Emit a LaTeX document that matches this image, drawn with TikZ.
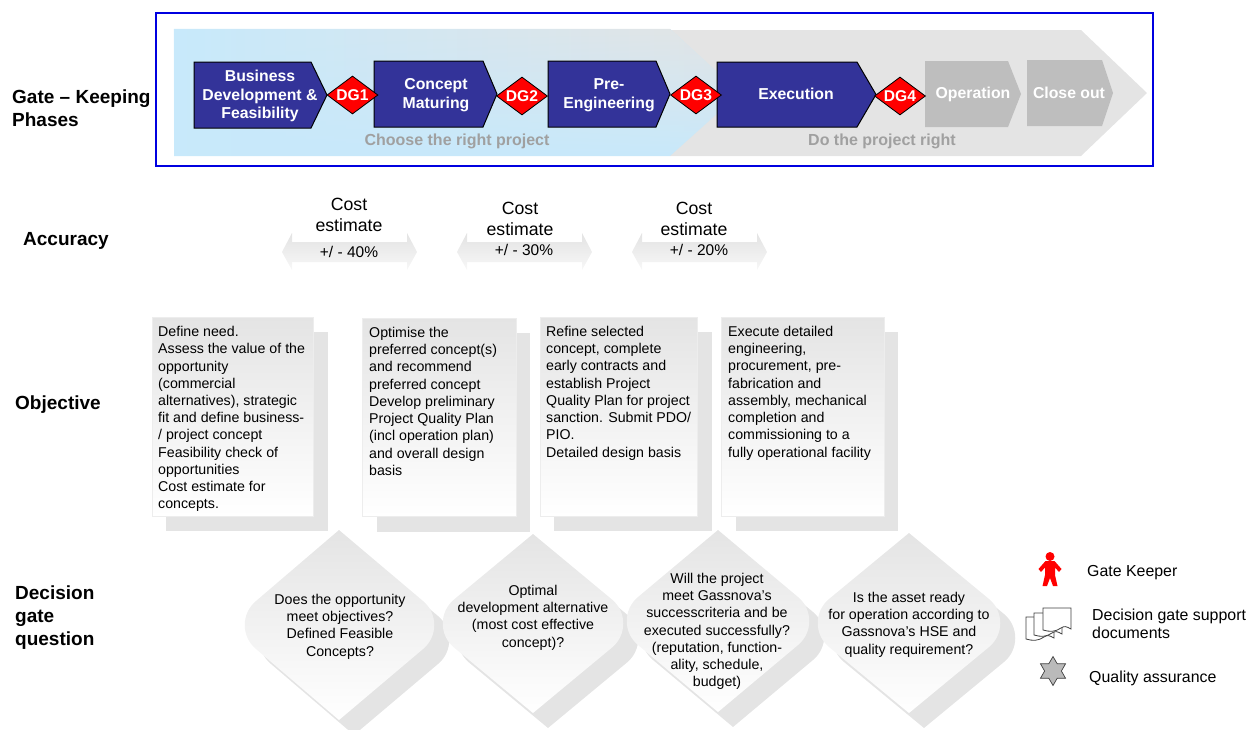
\documentclass[tikz,border=0pt]{standalone}
\usepackage{fontspec}
\setmainfont{Liberation Sans}
\usetikzlibrary{shapes.geometric,fadings}
\definecolor{bandblue}{HTML}{C8E9FB}
\definecolor{bandgray}{HTML}{E4E4E4}
\definecolor{phaseblue}{HTML}{333399}
\definecolor{phasegray}{HTML}{BEBEBE}
\definecolor{labelgray}{HTML}{A0A0A0}
\tikzfading[name=fadedown,top color=transparent!0,bottom color=transparent!100]
\begin{document}
\begin{tikzpicture}[x=1pt,y=-1pt,
phaseshape/.style n args={5}{insert path={(#1,#2) -- (#3,#2) -- (#4,{(#2+#5)/2}) -- (#3,#5) -- (#1,#5) -- cycle}},
gateshape/.style n args={5}{insert path={(#1,#2) -- (#5-11,{(#2+#3)/2-24}) .. controls (#5+4,{(#2+#3)/2-11.5}) and (#5+4,{(#2+#3)/2+11.5}) .. (#5-11,{(#2+#3)/2+24}) -- (#1,#3) -- (#4+11,{(#2+#3)/2+24}) .. controls (#4-4,{(#2+#3)/2+11.5}) and (#4-4,{(#2+#3)/2-11.5}) .. (#4+11,{(#2+#3)/2-24}) -- cycle}},
blueph/.style={draw=black,line width=1pt,fill=phaseblue},
grayph/.style={fill=phasegray},
phasetext/.style={font=\fontsize{15.8}{18.8}\selectfont\bfseries,text=white,align=center,inner sep=0pt},
dg/.style={shape=diamond,draw=black,line width=0.8pt,fill=red,aspect=1.34,minimum width=51,minimum height=38,inner sep=0pt,text=white,font=\fontsize{15.6}{18}\selectfont\bfseries},
motto/.style={font=\fontsize{16}{19}\selectfont\bfseries,text=labelgray,inner sep=0pt},
rowlabel/.style={anchor=north west,align=left,font=\fontsize{19}{22.6}\selectfont\bfseries,inner sep=0pt},
cost/.style={align=center,font=\fontsize{17.7}{21}\selectfont,inner sep=0pt},
costrange/.style={font=\fontsize{15.5}{18}\selectfont,inner sep=0pt},
costarrow/.style={top color=black!11,bottom color=black!3},
cardback/.style={fill=bandgray},
card/.style={draw=black!7,top color=bandgray,bottom color=white},
cardtext/.style={anchor=north west,align=left,font=\fontsize{14.2}{17.25}\selectfont,inner sep=0pt},
gatetext/.style={align=center,font=\fontsize{14.2}{17.25}\selectfont,inner sep=0pt},
legendtext/.style={anchor=west,align=left,font=\fontsize{15.9}{18}\selectfont,inner sep=0pt},
docpage/.style={draw=black!75,fill=white,line width=0.8pt}]
\useasboundingbox (0,0) rectangle (1250,729);

\fill[bandgray] (670,30) -- (1081,30) -- (1147,93) -- (1081,156) -- (670,156) -- cycle;
\fill[bandblue] (174,29) -- (670,29) -- (740,93) -- (670,156) -- (174,156) -- cycle;
\shade[left color=bandblue,right color=bandgray,path fading=fadedown] (174,29) -- (670,29) -- (740,93) -- (670,156) -- (174,156) -- cycle;
\draw[draw=blue!88!black,line width=2pt] (156,13) rectangle (1153,166);

\path[blueph,phaseshape={194}{62}{311}{327}{128}];
\path[blueph,phaseshape={374}{61}{483}{497}{127}];
\path[blueph,phaseshape={548}{61}{656}{670}{127}];
\path[blueph,phaseshape={717}{62}{857}{876}{127}];
\path[grayph,phaseshape={925}{61}{1008}{1021}{127}];
\path[grayph,phaseshape={1027}{60}{1102}{1113}{126}];

\node[phasetext] (P1) at (260,96) {Business\\Development \&\\Feasibility};
\node[phasetext] (P2) at (436,95.5) {Concept\\Maturing};
\node[phasetext] (P3) at (609,95.5) {Pre-\\Engineering};
\node[phasetext] (P4) at (796,94) {Execution};
\node[phasetext] (P5) at (973,94) {Operation};
\node[phasetext] (P6) at (1069,92.5) {Close out};

\node[dg] (DG1) at (352.5,95) {DG1};
\node[dg] (DG2) at (522,96) {DG2};
\node[dg] (DG3) at (696,95) {DG3};
\node[dg] (DG4) at (900,96) {DG4};

\node[motto] (M1) at (457,141) {Choose the right project};
\node[motto] (M2) at (882,141) {Do the project right};

\node[rowlabel] (L1) at (12,90) {Gate – Keeping\\Phases};
\node[rowlabel] (L2) at (23,232) {Accuracy};
\node[rowlabel] (L3) at (15,396) {Objective};
\node[rowlabel] (L4) at (15,586) {Decision\\gate\\question};

\foreach \xa in {282,457,632}
  \path[costarrow] (\xa,252) -- (\xa+10,233) -- (\xa+10,242) -- (\xa+125,242) -- (\xa+125,233) -- (\xa+135,252) -- (\xa+125,270) -- (\xa+125,262) -- (\xa+10,262) -- (\xa+10,270) -- cycle;

\node[cost] (C1) at (349,214.5) {Cost\\estimate};
\node[cost] (C2) at (520,218.5) {Cost\\estimate};
\node[cost] (C3) at (694,218.5) {Cost\\estimate};
\node[costrange] (R1) at (349,252) {+/ - 40\%};
\node[costrange] (R2) at (524,250) {+/ - 30\%};
\node[costrange] (R3) at (699,250) {+/ - 20\%};

\path[cardback] (166,332) rectangle (328,531);
\path[cardback] (377,333) rectangle (530,532);
\path[cardback] (554,332) rectangle (712,531);
\path[cardback] (736,332) rectangle (898,531);
\path[card] (152,317) rectangle (313,516);
\path[card] (362,318) rectangle (516,516);
\path[card] (540,317) rectangle (697,516);
\path[card] (721,317) rectangle (884,516);

\node[cardtext] (T1) at (158,326) {Define need.\\Assess the value of the\\opportunity\\(commercial\\alternatives), strategic\\fit and define business-\\/ project concept\\Feasibility check of\\opportunities\\Cost estimate for\\concepts.};
\node[cardtext] (T2) at (369,327) {Optimise the\\preferred concept(s)\\and recommend\\preferred concept\\Develop preliminary\\Project Quality Plan\\(incl operation plan)\\and overall design\\basis};
\node[cardtext] (T3) at (546,326) {Refine selected\\concept, complete\\early contracts and\\establish Project\\Quality Plan for project\\sanction. Submit PDO/\\PIO.\\Detailed design basis};
\node[cardtext] (T4) at (728,326) {Execute detailed\\engineering,\\procurement, pre-\\fabrication and\\assembly, mechanical\\completion and\\commissioning to a\\fully operational facility};

\path[cardback,shift={(15,15)},gateshape={339}{530}{720}{245}{434}];
\path[card,draw=none,gateshape={339}{530}{720}{245}{434}];
\path[cardback,shift={(15,15)},gateshape={533}{534}{713}{443}{623}];
\path[card,draw=none,gateshape={533}{534}{713}{443}{623}];
\path[cardback,shift={(15,15)},gateshape={718}{530}{712}{627}{809}];
\path[card,draw=none,gateshape={718}{530}{712}{627}{809}];
\path[cardback,shift={(15,15)},gateshape={909}{533}{713}{818}{1000}];
\path[card,draw=none,gateshape={909}{533}{713}{818}{1000}];

\node[gatetext] (Q1) at (340,626.5) {Does the opportunity\\meet objectives?\\Defined Feasible\\Concepts?};
\node[gatetext] (Q2) at (533,617.5) {Optimal\\development alternative\\(most cost effective\\concept)?};
\node[gatetext] (Q3) at (717,631.5) {Will the project\\meet Gassnova’s\\successcriteria and be\\executed successfully?\\(reputation, function-\\ality, schedule,\\budget)};
\node[gatetext] (Q4) at (909,624.5) {Is the asset ready\\for operation according to\\Gassnova’s HSE and\\quality requirement?};

\fill[red] (1050,556.5) circle (4.5);
\fill[red] (1045.5,561) -- (1054.5,561) -- (1061.5,569) -- (1059,572) -- (1055,567.5) -- (1055,575) -- (1057.5,586) -- (1053,586) -- (1050,578) -- (1047,586) -- (1042.5,586) -- (1045,575) -- (1045,567.5) -- (1041,572) -- (1038.5,569) -- cycle;
\foreach \xa/\ya in {1026/617,1034/613,1043/608}
  \path[docpage] (\xa,\ya) -- (\xa+28,\ya) -- (\xa+28,\ya+21) .. controls (\xa+23,\ya+18) and (\xa+21,\ya+18) .. (\xa+18,\ya+20) .. controls (\xa+12,\ya+24) and (\xa+7,\ya+24) .. (\xa,\ya+22) -- cycle;
\node[shape=star,star points=6,star point ratio=1.73,minimum size=29,inner sep=0pt,draw=black!75,fill=black!27,line width=0.7pt] (Q) at (1053,671) {};

\node[legendtext] (K1) at (1087,573) {Gate Keeper};
\node[legendtext] (K2) at (1092,624) {Decision gate support\\documents};
\node[legendtext] (K3) at (1089,678) {Quality assurance};
\end{tikzpicture}
\end{document}
